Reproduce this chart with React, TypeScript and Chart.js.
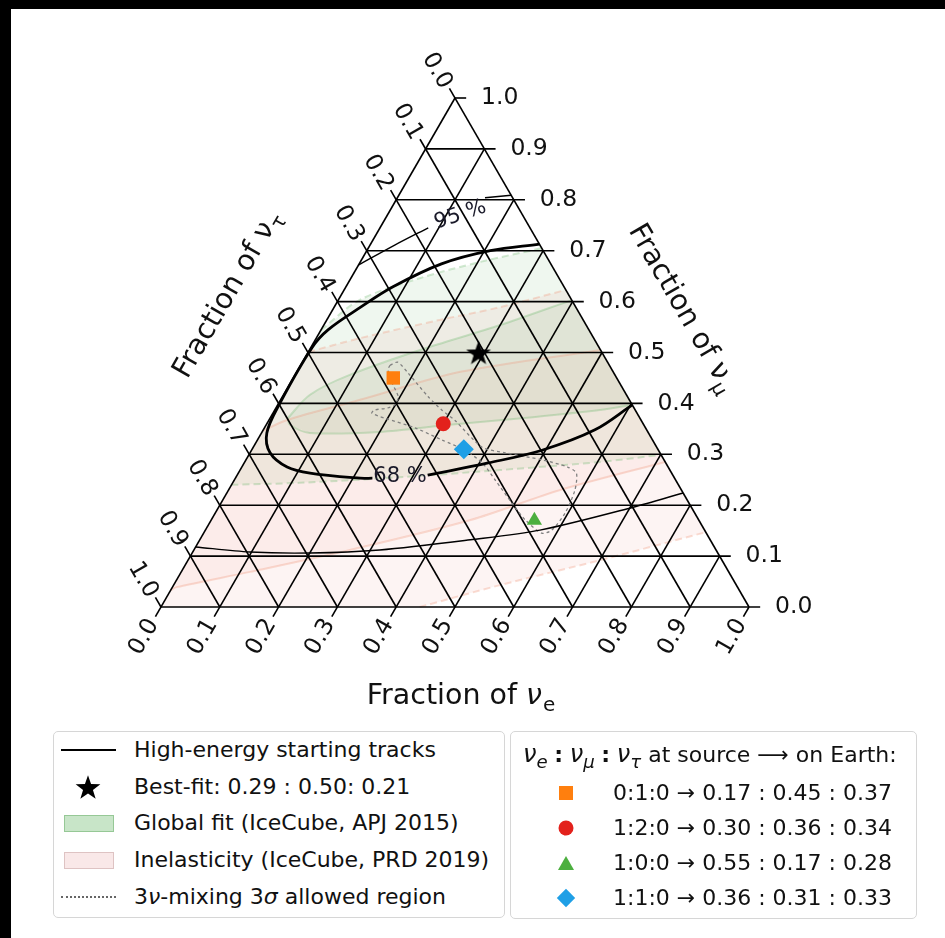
import React, { useEffect, useRef } from 'react';
import { Chart, registerables } from 'chart.js';
Chart.register(...registerables);

const SQ3 = Math.sqrt(3) / 2;
const FONT = '"DejaVu Sans", Verdana, sans-serif';

// ---------- data (ternary points are [fraction nu_e, fraction nu_mu]; nu_tau = 1 - e - mu) ----------
const TICK_VALUES = [0, 0.1, 0.2, 0.3, 0.4, 0.5, 0.6, 0.7, 0.8, 0.9, 1.0];
const TICK_LABELS = ['0.0', '0.1', '0.2', '0.3', '0.4', '0.5', '0.6', '0.7', '0.8', '0.9', '1.0'];

const BEST_FIT = [0.29, 0.50, 0.21];

const SOURCE_LABELS = ['0:1:0', '1:2:0', '1:0:0', '1:1:0'];
const EARTH_E = [0.17, 0.30, 0.55, 0.36];
const EARTH_MU = [0.45, 0.36, 0.17, 0.31];
const EARTH_TAU = [0.37, 0.34, 0.28, 0.33];

// High-energy starting tracks, 68 % contour (split where the label sits)
const HESE68_A = [[0.287, 0.713], [0.21, 0.70], [0.14, 0.674], [0.08, 0.629], [0.045, 0.589], [0.012, 0.545], [0.002, 0.51], [0.002, 0.40], [0.009, 0.342], [0.034, 0.303], [0.077, 0.275], [0.122, 0.263], [0.212, 0.253], [0.233, 0.253]];
const HESE68_B = [[0.324, 0.259], [0.415, 0.283], [0.494, 0.308], [0.564, 0.348], [0.603, 0.397]];
// 95 % contour
const HESE95_A = [[0, 0.672], [0.042, 0.711], [0.082, 0.745]];
const HESE95_B = [[0.149, 0.804], [0.191, 0.809]];
const HESE95_C = [[0, 0.118], [0.097, 0.108], [0.20, 0.106], [0.316, 0.112], [0.46, 0.132], [0.569, 0.151], [0.705, 0.196], [0.776, 0.224]];
const LABEL68 = [0.278, 0.257];
const LABEL95 = [0.121, 0.776];

// Global fit (IceCube, APJ 2015)
const GLOBAL95_UP = [[0, 0.544], [0.036, 0.603], [0.117, 0.646], [0.204, 0.678], [0.295, 0.705]];
const GLOBAL95_LO = [[0, 0.240], [0.114, 0.244], [0.278, 0.255], [0.442, 0.269], [0.605, 0.285], [0.701, 0.299]];
const GLOBAL68_UP = [[0.030, 0.371], [0.045, 0.417], [0.093, 0.456], [0.188, 0.505], [0.300, 0.554], [0.397, 0.603]];
const GLOBAL68_LO = [[0.030, 0.371], [0.040, 0.358], [0.082, 0.342], [0.200, 0.344], [0.312, 0.358], [0.446, 0.373], [0.553, 0.387], [0.603, 0.397]];

// Inelasticity (IceCube, PRD 2019)
const INEL95_UP = [[0, 0.501], [0.074, 0.528], [0.192, 0.564], [0.282, 0.589], [0.377, 0.623]];
const INEL95_LO = [[0.44, 0], [0.555, 0.043], [0.701, 0.092], [0.853, 0.147]];
const INEL68_UP = [[0, 0.346], [0.030, 0.367], [0.135, 0.407], [0.278, 0.462], [0.495, 0.505]];
const INEL68_LO = [[0, 0.033], [0.007, 0.039], [0.117, 0.069], [0.265, 0.112], [0.441, 0.171], [0.564, 0.230], [0.715, 0.285]];

// 3nu-mixing 3 sigma allowed region
const THREE_NU = [[0.152, 0.475], [0.162, 0.481], [0.19, 0.46], [0.248, 0.413], [0.284, 0.387], [0.316, 0.367], [0.389, 0.314], [0.434, 0.303], [0.504, 0.289], [0.554, 0.275], [0.575, 0.263], [0.589, 0.23], [0.595, 0.185], [0.589, 0.151], [0.575, 0.145], [0.534, 0.171], [0.495, 0.204], [0.443, 0.25], [0.405, 0.283], [0.363, 0.308], [0.314, 0.328], [0.256, 0.352], [0.195, 0.371], [0.168, 0.381], [0.17, 0.387], [0.19, 0.391], [0.199, 0.397], [0.197, 0.413], [0.173, 0.44], [0.153, 0.466], [0.152, 0.475]];

const LEGEND_LEFT = ['High-energy starting tracks', 'Global fit (IceCube, APJ 2015)', 'Inelasticity (IceCube, PRD 2019)'];

// ---------- helpers ----------
const TICK = 0.019;
const tern = (p: number[]) => ({ x: p[0] + p[1] / 2, y: p[1] * SQ3 });

function lineDs(points: number[][], style: any) {
  return {
    data: points.map(tern),
    showLine: true,
    pointRadius: 0,
    pointHoverRadius: 0,
    borderColor: '#000',
    backgroundColor: 'transparent',
    borderWidth: 1.6,
    tension: 0,
    fill: false,
    clip: false,
    ...style,
  };
}
function fillDs(points: number[][], color: string) {
  return { data: points.map(tern), showLine: false, pointRadius: 0, pointHoverRadius: 0, polyFill: color, order: 20, clip: false };
}

function makeStar(r: number) {
  const c = document.createElement('canvas');
  const s = Math.ceil(r * 2) + 2;
  c.width = s; c.height = s;
  const g = c.getContext('2d')!;
  const cx = s / 2, cy = s / 2 + r * 0.1;
  g.beginPath();
  for (let k = 0; k < 10; k++) {
    const a = -Math.PI / 2 + (k * Math.PI) / 5;
    const rr = k % 2 === 0 ? r : r * 0.4;
    g.lineTo(cx + rr * Math.cos(a), cy + rr * Math.sin(a));
  }
  g.closePath();
  g.fillStyle = '#000';
  g.fill();
  return c;
}

const polyFillPlugin = {
  id: 'polyFill',
  beforeDatasetDraw(chart: any, args: any) {
    const ds = chart.data.datasets[args.index];
    if (!ds.polyFill) return;
    const pts = args.meta.data;
    const ctx = chart.ctx;
    ctx.save();
    ctx.beginPath();
    pts.forEach((p: any, k: number) => (k ? ctx.lineTo(p.x, p.y) : ctx.moveTo(p.x, p.y)));
    ctx.closePath();
    ctx.fillStyle = ds.polyFill;
    ctx.fill();
    ctx.restore();
  },
};

function drawMathTitle(ctx: any, cx: number, cy: number, angle: number, sym: string, sub: string, italicNu: boolean) {
  const main = `28.5px ${FONT}`;
  const nuFont = `${italicNu ? 'italic ' : ''}28.5px ${FONT}`;
  const subFont = `20px ${FONT}`;
  const t1 = 'Fraction of ';
  ctx.font = main; const w1 = ctx.measureText(t1).width;
  ctx.font = nuFont; const w2 = ctx.measureText(sym).width;
  ctx.font = subFont; const w3 = ctx.measureText(sub).width;
  const w = w1 + w2 + w3 + 1;
  ctx.save();
  ctx.translate(cx, cy);
  ctx.rotate(angle);
  ctx.textBaseline = 'middle';
  ctx.textAlign = 'left';
  ctx.fillStyle = '#111';
  let x = -w / 2;
  ctx.font = main; ctx.fillText(t1, x, 0); x += w1;
  ctx.font = nuFont; ctx.fillText(sym, x, 0); x += w2 + 1;
  ctx.font = subFont; ctx.fillText(sub, x, 9);
  ctx.restore();
}

const ternaryTextPlugin = {
  id: 'ternaryText',
  afterDatasetsDraw(chart: any) {
    const { ctx, scales } = chart;
    const P = (e: number, mu: number) => [scales.x.getPixelForValue(e + mu / 2), scales.y.getPixelForValue(mu * SQ3)];
    ctx.save();
    ctx.fillStyle = '#111';
    ctx.font = `23.5px ${FONT}`;
    TICK_VALUES.forEach((v, i) => {
      const lab = TICK_LABELS[i];
      // right axis: nu_mu
      const [rx, ry] = P(1 - v, v);
      ctx.textAlign = 'left'; ctx.textBaseline = 'middle';
      ctx.fillText(lab, rx + 26, ry);
      // left axis: nu_tau
      const [lx, ly] = P(0, 1 - v);
      ctx.save(); ctx.translate(lx - 18, ly - 27); ctx.rotate(Math.PI / 3);
      ctx.textAlign = 'center'; ctx.fillText(lab, 0, 0); ctx.restore();
      // bottom axis: nu_e
      const [bx, by] = P(v, 0);
      ctx.save(); ctx.translate(bx - 17, by + 30); ctx.rotate(-Math.PI / 3);
      ctx.textAlign = 'center'; ctx.fillText(lab, 0, 0); ctx.restore();
    });
    // contour labels
    ctx.font = `21px ${FONT}`;
    ctx.fillStyle = '#1a1a2a';
    ctx.textAlign = 'center'; ctx.textBaseline = 'middle';
    const [p68x, p68y] = P(LABEL68[0], LABEL68[1]);
    ctx.fillText('68 %', p68x, p68y);
    const [p95x, p95y] = P(LABEL95[0], LABEL95[1]);
    ctx.save(); ctx.translate(p95x, p95y + 3); ctx.rotate(-0.33); ctx.fillText('95 %', 0, 0); ctx.restore();
    // axis titles
    const [bmx, bmy] = P(0.5, 0);
    drawMathTitle(ctx, bmx + 6, bmy + 90, 0, 'ν', 'e', true);
    const [lmx, lmy] = P(0, 0.5);
    drawMathTitle(ctx, lmx - 80, lmy - 58, -Math.PI / 3, 'ν', 'τ', false);
    const [rmx, rmy] = P(0.5, 0.5);
    drawMathTitle(ctx, rmx + 80, rmy - 44, Math.PI / 3, 'ν', 'μ', false);
    ctx.restore();
  },
};

// ---------- legend pieces ----------
const Sub = ({ children }: any) => (
  <span style={{ fontSize: '0.75em', position: 'relative', top: '0.32em' }}>{children}</span>
);
const StarIcon = ({ size }: { size: number }) => {
  const r = size / 2, pts: string[] = [];
  for (let k = 0; k < 10; k++) {
    const a = -Math.PI / 2 + (k * Math.PI) / 5;
    const rr = k % 2 === 0 ? r : r * 0.4;
    pts.push(`${(r + rr * Math.cos(a)).toFixed(2)},${(r + r * 0.1 + rr * Math.sin(a)).toFixed(2)}`);
  }
  return (
    <svg width={size} height={size} style={{ display: 'block' }}>
      <polygon points={pts.join(' ')} fill="#000" />
    </svg>
  );
};

const MARKER_COLORS = ['#ff7f0e', '#e3211c', '#4caf3f', '#1f9fe6'];

export default function App() {
  const ref = useRef<HTMLCanvasElement | null>(null);

  useEffect(() => {
    if (!ref.current) return;
    const datasets: any[] = [];
    // fills
    datasets.push(fillDs([...INEL95_UP, ...INEL95_LO.slice().reverse(), [0, 0]], 'rgba(235,130,120,0.09)'));
    datasets.push(fillDs([...INEL68_UP, ...INEL68_LO.slice().reverse()], 'rgba(235,130,120,0.07)'));
    datasets.push(fillDs([...GLOBAL95_UP, ...GLOBAL95_LO.slice().reverse()], 'rgba(70,160,70,0.085)'));
    datasets.push(fillDs([...GLOBAL68_UP, ...GLOBAL68_LO.slice().reverse()], 'rgba(70,160,70,0.09)'));
    // region boundaries
    const pinkLine = { borderColor: 'rgba(240,150,120,0.32)', borderWidth: 2, tension: 0.3, order: 15 };
    const greenLine = { borderColor: 'rgba(110,185,110,0.32)', borderWidth: 2, tension: 0.3, order: 15 };
    datasets.push(lineDs(INEL95_UP, { ...pinkLine, borderDash: [7, 4] }));
    datasets.push(lineDs(INEL95_LO, { ...pinkLine, borderDash: [7, 4] }));
    datasets.push(lineDs(INEL68_UP, pinkLine));
    datasets.push(lineDs(INEL68_LO, pinkLine));
    datasets.push(lineDs(GLOBAL95_UP, { ...greenLine, borderDash: [7, 4] }));
    datasets.push(lineDs(GLOBAL95_LO, { ...greenLine, borderDash: [7, 4] }));
    datasets.push(lineDs(GLOBAL68_UP, greenLine));
    datasets.push(lineDs(GLOBAL68_LO, greenLine));
    // grid lines with ticks
    TICK_VALUES.forEach((v) => {
      datasets.push(lineDs([[0, v], [1 - v + TICK, v]], { order: 10 }));
      datasets.push(lineDs([[v, -TICK], [v, 1 - v]], { order: 10 }));
      datasets.push(lineDs([[-TICK, 1 - v + TICK], [1 - v, 0]], { order: 10 }));
    });
    // 3nu mixing region
    datasets.push(lineDs(THREE_NU, { borderColor: '#808080', borderWidth: 1.3, borderDash: [3, 3], tension: 0.25, order: 6 }));
    // HESE contours
    datasets.push(lineDs(HESE68_A, { borderColor: '#000', borderWidth: 2.8, tension: 0.35, order: 5 }));
    datasets.push(lineDs(HESE68_B, { borderColor: '#000', borderWidth: 2.8, tension: 0.35, order: 5 }));
    datasets.push(lineDs(HESE95_A, { borderColor: '#000', borderWidth: 1.4, tension: 0.3, order: 5 }));
    datasets.push(lineDs(HESE95_B, { borderColor: '#000', borderWidth: 1.4, tension: 0.3, order: 5 }));
    datasets.push(lineDs(HESE95_C, { borderColor: '#000', borderWidth: 1.4, tension: 0.3, order: 5 }));
    // markers
    datasets.push({ data: [tern(BEST_FIT)], pointStyle: makeStar(13), pointRadius: 13, order: 1, clip: false });
    const styles = ['rect', 'circle', 'triangle', 'rectRot'];
    const radii = [9.5, 7.5, 8.8, 10];
    SOURCE_LABELS.forEach((_, i) => {
      datasets.push({
        data: [tern([EARTH_E[i], EARTH_MU[i], EARTH_TAU[i]])],
        pointStyle: styles[i],
        pointRadius: radii[i],
        pointBackgroundColor: MARKER_COLORS[i],
        pointBorderColor: MARKER_COLORS[i],
        pointBorderWidth: 0,
        order: 0,
        clip: false,
      });
    });

    const chart = new Chart(ref.current, {
      type: 'scatter',
      data: { datasets },
      options: {
        animation: false,
        responsive: false,
        devicePixelRatio: 1,
        events: [],
        layout: { padding: { left: 161, right: 196, top: 98, bottom: 331 } },
        scales: {
          x: { type: 'linear', min: 0, max: 1, display: false },
          y: { type: 'linear', min: 0, max: SQ3, display: false },
        },
        plugins: { legend: { display: false }, tooltip: { enabled: false } },
      } as any,
      plugins: [polyFillPlugin, ternaryTextPlugin],
    });
    return () => chart.destroy();
  }, []);

  const fs = 22;
  const textRow = (top: number, left: number, content: any) => (
    <div style={{ position: 'absolute', top: top - 14, left, height: 28, lineHeight: '28px', fontSize: fs, whiteSpace: 'nowrap', color: '#111' }}>{content}</div>
  );
  const boxStyle: any = { position: 'absolute', top: 731, height: 187, border: '1.5px solid #d6d6d6', borderRadius: 5, boxSizing: 'border-box', background: '#fff', fontFamily: FONT };
  const leftRows = [18, 55, 91, 128, 165];
  const rightRows = [61, 96, 131, 166];
  const bf = BEST_FIT.map((v) => v.toFixed(2));
  const colon = <span style={{ margin: '0 0.3em 0 0.3em', fontWeight: 'bold' }}>:</span>;

  const markerIcon = (i: number) => {
    const c = MARKER_COLORS[i];
    if (i === 0) return <div style={{ width: 14, height: 14, background: c }} />;
    if (i === 1) return <div style={{ width: 15, height: 15, background: c, borderRadius: '50%' }} />;
    if (i === 2) return <div style={{ width: 0, height: 0, borderLeft: '8px solid transparent', borderRight: '8px solid transparent', borderBottom: `14px solid ${c}` }} />;
    return <div style={{ width: 13, height: 13, background: c, transform: 'rotate(45deg)' }} />;
  };

  return (
    <div style={{ position: 'absolute', left: 0, top: 0, width: 945, height: 938, background: '#000', overflow: 'hidden' }}>
      <div style={{ position: 'absolute', left: 11, top: 9, right: 0, bottom: 0, background: '#fff' }} />
      <canvas ref={ref} width={945} height={938} style={{ position: 'absolute', left: 0, top: 0, width: 945, height: 938 }} />
      {/* left legend */}
      <div style={{ ...boxStyle, left: 53, width: 452 }}>
        <div style={{ position: 'absolute', left: 7, top: leftRows[0] - 1.3, width: 55, height: 2.6, background: '#000' }} />
        {textRow(leftRows[0], 80, LEGEND_LEFT[0])}
        <div style={{ position: 'absolute', left: 21, top: leftRows[1] - 13 }}><StarIcon size={26} /></div>
        {textRow(leftRows[1], 80, `Best-fit: ${bf[0]} : ${bf[1]}: ${bf[2]}`)}
        <div style={{ position: 'absolute', left: 10, top: leftRows[2] - 8.5, width: 50, height: 17, background: 'rgb(200,229,200)', border: '1px solid rgb(150,200,150)', boxSizing: 'border-box' }} />
        {textRow(leftRows[2], 80, LEGEND_LEFT[1])}
        <div style={{ position: 'absolute', left: 10, top: leftRows[3] - 8.5, width: 50, height: 17, background: 'rgb(249,232,232)', border: '1px solid rgb(222,195,195)', boxSizing: 'border-box' }} />
        {textRow(leftRows[3], 80, LEGEND_LEFT[2])}
        <div style={{ position: 'absolute', left: 7, top: leftRows[4] - 1, width: 55, height: 0, borderTop: '2px dotted #666' }} />
        {textRow(leftRows[4], 80, <>3<i>ν</i>-mixing 3<i>σ</i> allowed region</>)}
      </div>
      {/* right legend */}
      <div style={{ ...boxStyle, left: 510, width: 407, height: 188 }}>
        {textRow(22, 12, <><i style={{ fontSize: '1.1em' }}>ν<Sub>e</Sub></i>{colon}<i style={{ fontSize: '1.1em' }}>ν<Sub>μ</Sub></i>{colon}<i style={{ fontSize: '1.1em' }}>ν<Sub>τ</Sub></i> at source ⟶ on Earth:</>)}
        {SOURCE_LABELS.map((lab, i) => (
          <React.Fragment key={lab}>
            <div style={{ position: 'absolute', left: 55, top: rightRows[i], transform: 'translate(-50%,-50%)' }}>{markerIcon(i)}</div>
            {textRow(rightRows[i], 102, `${lab} → ${EARTH_E[i].toFixed(2)} : ${EARTH_MU[i].toFixed(2)} : ${EARTH_TAU[i].toFixed(2)}`)}
          </React.Fragment>
        ))}
      </div>
    </div>
  );
}
